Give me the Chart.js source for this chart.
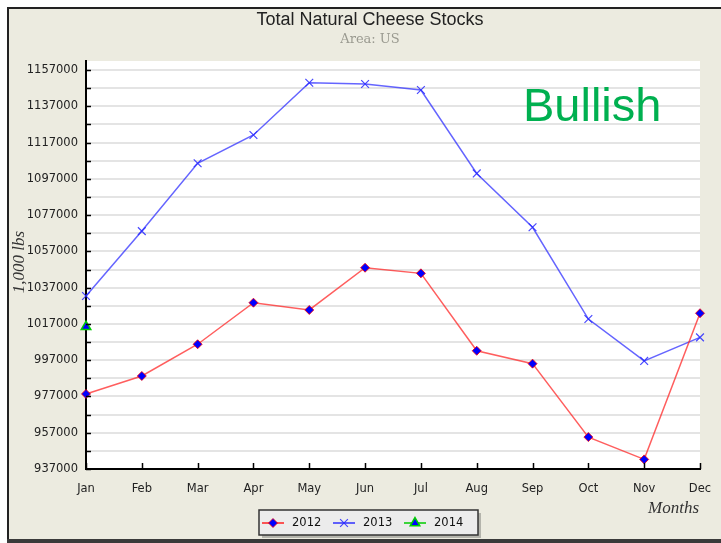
<!DOCTYPE html>
<html>
<head>
<meta charset="utf-8">
<script src="https://cdn.jsdelivr.net/npm/chart.js@4/dist/chart.umd.min.js"></script>
<style>
  html, body { margin: 0; padding: 0; background: #fff; }
  #wrap { width: 721px; height: 543px; position: relative; }
</style>
</head>
<body>
<div id="wrap"><canvas id="chart"></canvas></div>
<script>
// data
const months = ['Jan', 'Feb', 'Mar', 'Apr', 'May', 'Jun', 'Jul', 'Aug', 'Sep', 'Oct', 'Nov', 'Dec'];
const stocks2012 = [978400, 988300, 1005800, 1028700, 1024700, 1048000, 1044900, 1002200, 995100, 954600, 942300, 1022900];
const stocks2013 = [1032400, 1068200, 1105600, 1121200, 1150000, 1149300, 1146000, 1100000, 1070300, 1019700, 996600, 1009600];
const stocks2014 = [1015500, null, null, null, null, null, null, null, null, null, null, null];
const yTicks = [937000, 947000, 957000, 967000, 977000, 987000, 997000, 1007000, 1017000, 1027000, 1037000,
  1047000, 1057000, 1067000, 1077000, 1087000, 1097000, 1107000, 1117000, 1127000, 1137000, 1147000, 1157000];
const yLabels = [937000, 957000, 977000, 997000, 1017000, 1037000, 1057000, 1077000, 1097000, 1117000, 1137000, 1157000];

const BEIGE = '#ecebe0';

// frame, white plot, texts, inward tick marks and legend
const decor = {
  id: 'decor',
  beforeDraw(chart) {
    const ctx = chart.ctx;
    const a = chart.chartArea;
    ctx.save();
    ctx.fillStyle = '#fff';
    ctx.fillRect(0, 0, chart.width, chart.height);
    ctx.fillStyle = BEIGE;
    ctx.fillRect(8, 8, chart.width - 8, 531);
    ctx.fillStyle = '#222';
    ctx.fillRect(7, 7, chart.width - 7, 2);
    ctx.fillRect(7, 7, 2, 533);
    ctx.fillStyle = '#3a3a3a';
    ctx.fillRect(7, 539, chart.width - 7, 4);
    ctx.fillStyle = '#fff';
    ctx.fillRect(a.left, a.top, a.right - a.left, a.bottom - a.top);
    ctx.restore();
  },
  afterDatasetsDraw(chart) {
    const ctx = chart.ctx;
    const a = chart.chartArea;
    const xs = chart.scales.x, ys = chart.scales.y;
    ctx.save();
    // inward ticks
    ctx.strokeStyle = '#000';
    ctx.lineWidth = 1.5;
    ctx.beginPath();
    ys.ticks.forEach((t, i) => {
      const y = Math.round(ys.getPixelForTick(i)) + 0.5;
      ctx.moveTo(a.left, y); ctx.lineTo(a.left + 5, y);
    });
    xs.ticks.forEach((t, i) => {
      const x = Math.round(xs.getPixelForTick(i)) + 0.5;
      ctx.moveTo(x, a.bottom); ctx.lineTo(x, a.bottom - 6);
    });
    ctx.stroke();

    // titles
    ctx.textAlign = 'center';
    ctx.textBaseline = 'middle';
    ctx.fillStyle = '#222';
    ctx.font = '18px "Liberation Sans", Arial, sans-serif';
    ctx.fillText('Total Natural Cheese Stocks', 370, 20);
    ctx.fillStyle = '#9a9a90';
    ctx.font = '13px "DejaVu Serif", serif';
    ctx.fillText('Area: US', 370, 40);

    // axis titles
    ctx.fillStyle = '#333';
    ctx.font = 'italic 17px "Liberation Serif", serif';
    ctx.textAlign = 'right';
    ctx.textBaseline = 'alphabetic';
    ctx.fillText('Months', 699, 513);
    ctx.save();
    ctx.translate(24, 262);
    ctx.rotate(-Math.PI / 2);
    ctx.textAlign = 'center';
    ctx.fillText('1,000 lbs', 0, 0);
    ctx.restore();

    // annotation
    ctx.fillStyle = '#00b050';
    ctx.font = '47px "Liberation Sans", Arial, sans-serif';
    ctx.textAlign = 'left';
    ctx.fillText('Bullish', 523, 121);

    // legend
    const lx = 259, ly = 510, lw = 219, lh = 25;
    ctx.fillStyle = '#b4b4ac';
    ctx.fillRect(lx + 3, ly + 3, lw, lh);
    ctx.fillStyle = '#ececec';
    ctx.fillRect(lx, ly, lw, lh);
    ctx.strokeStyle = '#333';
    ctx.lineWidth = 1.5;
    ctx.strokeRect(lx, ly, lw, lh);
    const itemX = [273, 344, 415];
    ctx.font = '11.5px "DejaVu Sans", sans-serif';
    ctx.textBaseline = 'middle';
    chart.data.datasets.forEach((ds, i) => {
      const cx = itemX[i], cy = ly + lh / 2 + 0.5;
      ctx.strokeStyle = ds.legendLine;
      ctx.lineWidth = 1.5;
      ctx.beginPath();
      ctx.moveTo(cx - 11, cy); ctx.lineTo(cx + 11, cy);
      ctx.stroke();
      ctx.fillStyle = ds.pointBackgroundColor;
      ctx.strokeStyle = ds.pointBorderColor;
      ctx.lineWidth = ds.pointBorderWidth;
      Chart.helpers.drawPoint(ctx, {
        pointStyle: ds.pointStyle, radius: ds.pointRadius, rotation: 0,
        borderWidth: ds.pointBorderWidth
      }, cx, cy);
      ctx.fillStyle = '#111';
      ctx.textAlign = 'left';
      ctx.fillText(ds.label, cx + 19, cy);
    });
    ctx.restore();
  }
};

new Chart(document.getElementById('chart'), {
  type: 'line',
  data: {
    labels: months,
    datasets: [
      {
        label: '2012',
        data: stocks2012,
        borderColor: 'rgba(255, 40, 40, 0.75)',
        legendLine: '#ff2020',
        borderWidth: 1.5,
        pointStyle: 'rectRot',
        pointRadius: 4.5,
        pointBackgroundColor: '#0000ff',
        pointBorderColor: 'rgba(255, 0, 0, 0.8)',
        pointBorderWidth: 1,
        tension: 0,
        clip: false
      },
      {
        label: '2013',
        data: stocks2013,
        borderColor: 'rgba(50, 50, 255, 0.75)',
        legendLine: '#3030ff',
        borderWidth: 1.5,
        pointStyle: 'crossRot',
        pointRadius: 5.5,
        pointBackgroundColor: '#2828ff',
        pointBorderColor: 'rgba(40, 40, 255, 0.85)',
        pointBorderWidth: 1.2,
        tension: 0,
        clip: false
      },
      {
        label: '2014',
        data: stocks2014,
        borderColor: '#00cc00',
        legendLine: '#00cc00',
        borderWidth: 1.5,
        pointStyle: 'triangle',
        pointRadius: 5.5,
        pointBackgroundColor: '#0000ff',
        pointBorderColor: '#00cc00',
        pointBorderWidth: 1.5,
        tension: 0,
        clip: false
      }
    ]
  },
  options: {
    responsive: true,
    maintainAspectRatio: false,
    animation: false,
    layout: { padding: { left: 0, top: 61, right: 21, bottom: 0 } },
    plugins: {
      legend: { display: false },
      title: { display: false },
      tooltip: { enabled: false }
    },
    scales: {
      x: {
        offset: false,
        afterFit(scale) { scale.height = 74; scale.paddingLeft = 0; scale.paddingRight = 0; },
        grid: { display: false, drawTicks: false },
        border: { display: true, color: '#000', width: 2 },
        ticks: {
          padding: 13,
          color: '#222',
          font: { family: '"DejaVu Sans", sans-serif', size: 11.5 },
          maxRotation: 0,
          autoSkip: false
        }
      },
      y: {
        min: 937000,
        max: 1162000,
        afterFit(scale) { scale.width = 86; scale.paddingTop = 0; scale.paddingBottom = 0; },
        afterBuildTicks(scale) { scale.ticks = yTicks.map(v => ({ value: v })); },
        grid: { color: '#e4e4e4', lineWidth: 2, drawTicks: false },
        border: { display: true, color: '#000', width: 2 },
        ticks: {
          padding: 8,
          color: '#222',
          font: { family: '"DejaVu Sans", sans-serif', size: 11.5 },
          callback: v => (yLabels.includes(v) ? String(v) : '')
        }
      }
    }
  },
  plugins: [decor]
});
</script>
</body>
</html>
